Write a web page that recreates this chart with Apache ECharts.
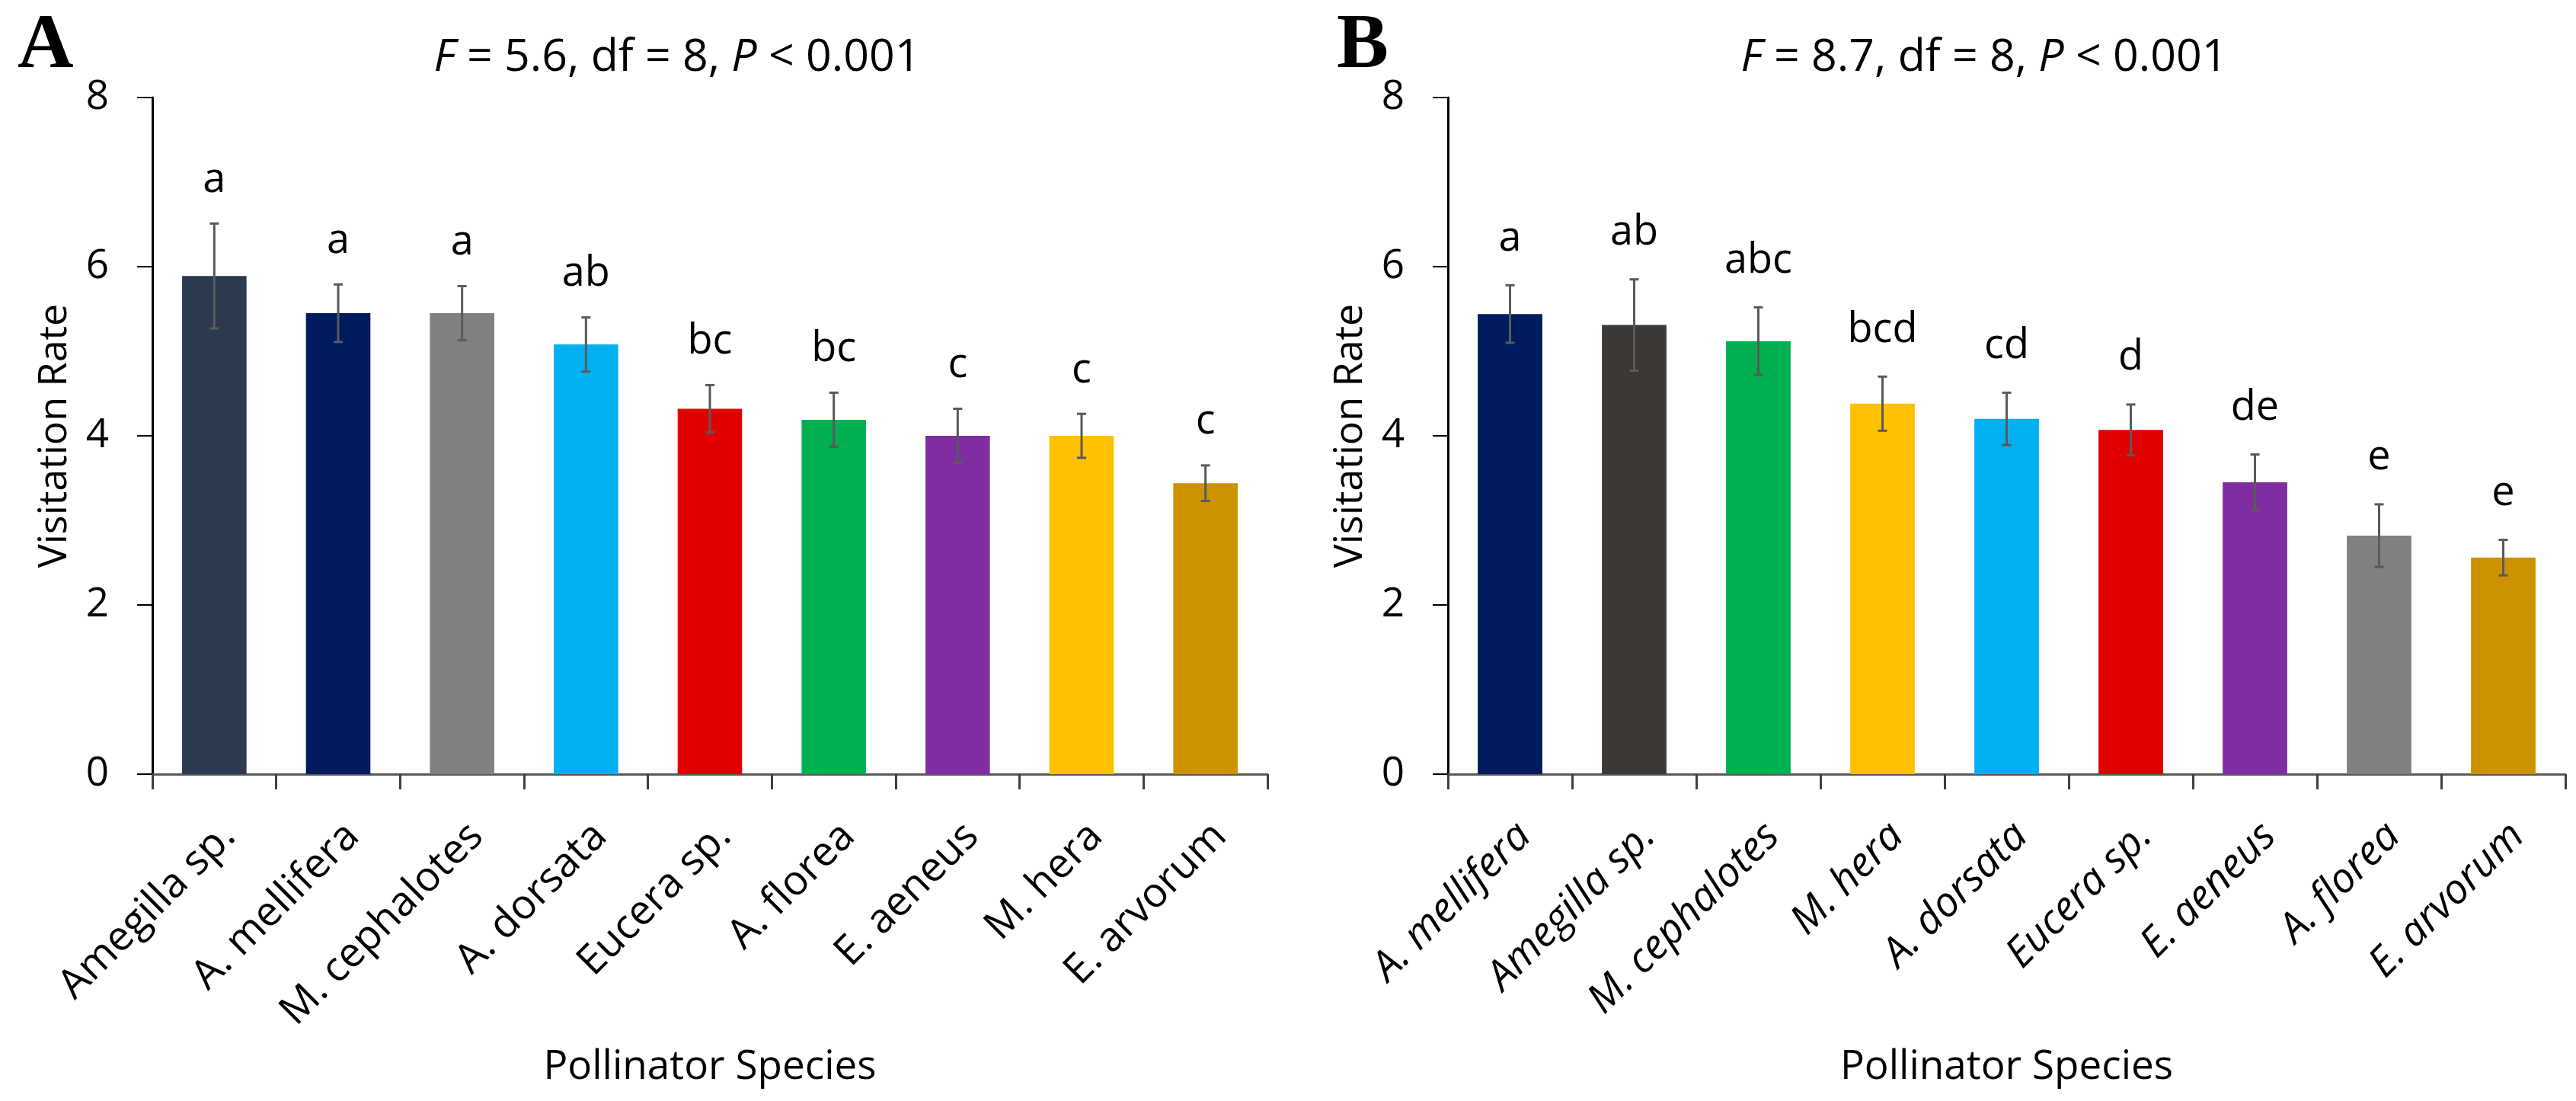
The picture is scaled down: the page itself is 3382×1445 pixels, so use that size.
<!DOCTYPE html>
<html>
<head>
<meta charset="utf-8">
<script src="https://cdn.jsdelivr.net/npm/echarts@6/dist/echarts.min.js"></script>
<style>
  html, body { margin: 0; padding: 0; background: #fff; }
  #chart { width: 3382px; height: 1445px; }
</style>
</head>
<body>
<div id="chart"></div>
<script>
// panel A
var speciesA = ['Amegilla sp.', 'A. mellifera', 'M. cephalotes', 'A. dorsata', 'Eucera sp.', 'A. florea', 'E. aeneus', 'M. hera', 'E. arvorum'];
var rateA = [5.89, 5.45, 5.45, 5.08, 4.32, 4.19, 4.00, 4.00, 3.44];
var errA = [0.62, 0.34, 0.32, 0.32, 0.28, 0.32, 0.32, 0.26, 0.21];
var lettersA = ['a', 'a', 'a', 'ab', 'bc', 'bc', 'c', 'c', 'c'];
var colorsA = ['#2b3a4f', '#001b5e', '#808080', '#00b0f0', '#e00000', '#00b050', '#7f2da0', '#ffc000', '#cc9200'];

// panel B
var speciesB = ['A. mellifera', 'Amegilla sp.', 'M. cephalotes', 'M. hera', 'A. dorsata', 'Eucera sp.', 'E. aeneus', 'A. florea', 'E. arvorum'];
var rateB = [5.44, 5.31, 5.12, 4.38, 4.20, 4.07, 3.45, 2.82, 2.56];
var errB = [0.34, 0.54, 0.40, 0.32, 0.31, 0.30, 0.33, 0.37, 0.21];
var lettersB = ['a', 'ab', 'abc', 'bcd', 'cd', 'd', 'de', 'e', 'e'];
var colorsB = ['#001b5e', '#3b3835', '#00b050', '#ffc000', '#00b0f0', '#e00000', '#7f2da0', '#808080', '#cc9200'];

var yTicks = [0, 2, 4, 6, 8];

var font = "'Open Sans', 'Noto Sans', sans-serif";

var dom = document.getElementById("chart");
var myChart = echarts.init(dom);

function barData(vals, colors) {
    return vals.map(function (v, i) {
        return { value: v, itemStyle: { color: colors[i] } };
    });
}

function errData(vals, errs) {
    return vals.map(function (v, i) {
        return [i, v, errs[i]];
    });
}

// error bar with its significance letter on top
function makeRenderErr(letters, gap) {
    return function (params, api) {
        var x = api.value(0);
        var v = api.value(1);
        var e = api.value(2);
        var hi = api.coord([x, v + e]);
        var lo = api.coord([x, v - e]);
        var cap = 6;
        var lineStyle = { stroke: '#5a5a5a', lineWidth: 3 };
        return {
            type: 'group',
            children: [
                { type: 'line', shape: { x1: hi[0], y1: hi[1], x2: lo[0], y2: lo[1] }, style: lineStyle },
                { type: 'line', shape: { x1: hi[0] - cap, y1: hi[1], x2: hi[0] + cap, y2: hi[1] }, style: lineStyle },
                { type: 'line', shape: { x1: lo[0] - cap, y1: lo[1], x2: lo[0] + cap, y2: lo[1] }, style: lineStyle },
                {
                    type: 'text',
                    x: hi[0], y: hi[1] - gap,
                    style: {
                        text: letters[params.dataIndex], fill: '#000', font: '54px ' + font,
                        align: 'center', verticalAlign: 'bottom'
                    }
                }
            ]
        };
    };
}

function xAxisFor(idx, cats, italic) {
    return {
        gridIndex: idx,
        type: 'category',
        data: cats,
        name: 'Pollinator Species',
        nameLocation: 'middle',
        nameGap: 358,
        nameTextStyle: { color: '#000', fontSize: 53, fontFamily: font },
        axisLine: { lineStyle: { color: '#595959', width: 3 } },
        axisTick: { show: true, length: 20, lineStyle: { color: '#404040', width: 3 } },
        axisLabel: {
            rotate: 45, margin: 54, interval: 0, verticalAlign: 'top',
            color: '#000', fontSize: 54, fontFamily: font,
            fontStyle: italic ? 'italic' : 'normal'
        },
        splitLine: { show: false }
    };
}

function yAxisFor(idx) {
    return {
        gridIndex: idx,
        type: 'value',
        min: 0, max: 8, interval: 2,
        name: 'Visitation Rate',
        nameLocation: 'middle',
        nameGap: 102,
        nameTextStyle: { color: '#000', fontSize: 52, fontFamily: font },
        axisLine: { show: true, lineStyle: { color: '#000', width: 3 } },
        axisTick: { show: true, length: 20, lineStyle: { color: '#000', width: 2 } },
        axisLabel: {
            margin: 57, color: '#000', fontSize: 53, fontFamily: font,
            formatter: function (v) { return yTicks.indexOf(v) >= 0 ? String(v) : ''; }
        },
        splitLine: { show: false }
    };
}

var titleRich = { i: { fontStyle: 'italic', fontSize: 59, fontFamily: font, color: '#000' } };
var letterFont = { fontFamily: "'Liberation Serif', 'DejaVu Serif', serif", fontWeight: 'bold', fontSize: 102, color: '#000' };

option = {
    backgroundColor: '#fff',
    animation: false,
    title: [
        { text: 'A', left: 18, top: 6, textStyle: letterFont },
        { text: 'B', left: 1750, top: 6, textStyle: letterFont },
        {
            text: '{i|F} = 5.6, df = 8, {i|P} < 0.001', left: 884, top: 42, textAlign: 'center',
            textStyle: { fontFamily: font, fontSize: 59, fontWeight: 'normal', color: '#000', rich: titleRich }
        },
        {
            text: '{i|F} = 8.7, df = 8, {i|P} < 0.001', left: 2600, top: 42, textAlign: 'center',
            textStyle: { fontFamily: font, fontSize: 59, fontWeight: 'normal', color: '#000', rich: titleRich }
        }
    ],
    grid: [
        { left: 200, top: 128, width: 1464, height: 888, containLabel: false },
        { left: 1901, top: 128, width: 1467, height: 888, containLabel: false }
    ],
    xAxis: [xAxisFor(0, speciesA, false), xAxisFor(1, speciesB, true)],
    yAxis: [yAxisFor(0), yAxisFor(1)],
    series: [
        {
            name: 'A', type: 'bar', xAxisIndex: 0, yAxisIndex: 0,
            barCategoryGap: '48%',
            data: barData(rateA, colorsA)
        },
        {
            name: 'A err', type: 'custom', xAxisIndex: 0, yAxisIndex: 0,
            renderItem: makeRenderErr(lettersA, 30),
            data: errData(rateA, errA),
            z: 5
        },
        {
            name: 'B', type: 'bar', xAxisIndex: 1, yAxisIndex: 1,
            barCategoryGap: '48%',
            data: barData(rateB, colorsB)
        },
        {
            name: 'B err', type: 'custom', xAxisIndex: 1, yAxisIndex: 1,
            renderItem: makeRenderErr(lettersB, 34),
            data: errData(rateB, errB),
            z: 5
        }
    ]
};

if (option && typeof option === "object") {
    myChart.setOption(option, true);
}
</script>
</body>
</html>
